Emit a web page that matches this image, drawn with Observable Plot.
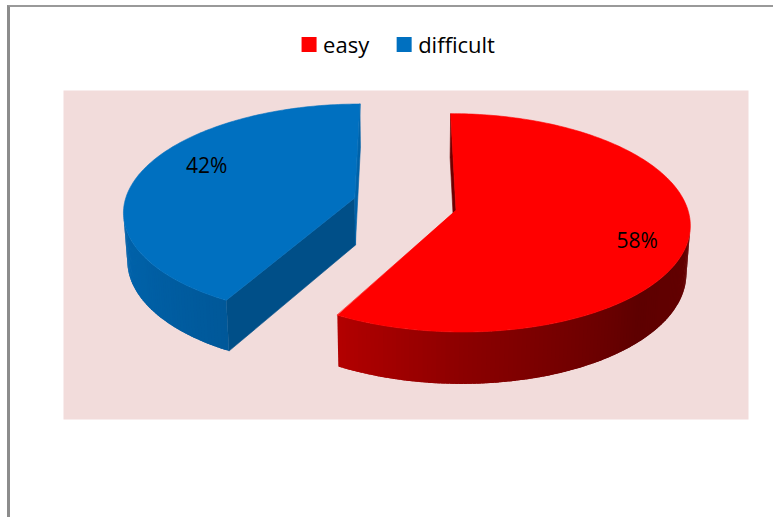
<!DOCTYPE html>
<html><head><meta charset="utf-8">
<script src="https://cdn.jsdelivr.net/npm/d3@7"></script>
<script src="https://cdn.jsdelivr.net/npm/@observablehq/plot@0.6"></script>
<style>
html,body{margin:0;padding:0;background:#fff;}
#wrap{position:relative;width:773px;height:517px;overflow:hidden;}
#chart{position:absolute;left:0;top:0;}
#frame{position:absolute;left:7px;top:5px;right:-10px;bottom:-10px;border-left:3px solid #8c8c8c;border-top:2px solid #999;pointer-events:none;}
</style></head><body>
<div id="wrap"><div id="chart"></div><div id="frame"></div></div>
<script>
// ---- data ----
const categories = ["easy", "difficult"];
const values = [58, 42];
const labels = ["58%", "42%"];

// ---- styles ----
const baseColors = {easy: "#ff0000", difficult: "#0070c0"};
const sideRamp = {
  easy: {domain: [90, 135, 180, 209], range: ["#660000", "#5e0000", "#8c0000", "#b30000"]},
  difficult: {domain: [209, 240, 280, 360], range: ["#005899", "#0060a6", "#0066b0", "#0066b0"]}
};
const cutColors = {easy: ["#6e0000", "#800000"], difficult: ["#004f88", "#0062a8"]};
const labelPlace = {easy: {r: 0.80, shift: 6.3}, difficult: {r: 0.745, shift: 10.2}};
const FONT = "'Open Sans', sans-serif";
const W = 773, H = 517;

// ---- 3D perspective pie geometry ----
const cam = {cx: 404.5, cy: 203.5, fx: 1765, fy: 1793, d: 7.66, phi: 27 * Math.PI / 180, depth: 0.23, explode: 0.227};
function project(X, Y, Z) {
  const c = Math.cos(cam.phi), s = Math.sin(cam.phi);
  const yc = Y * c + Z * s, zc = -Y * s + Z * c;
  const k = 1 / (cam.d + zc);
  return [cam.cx + X * cam.fx * k, cam.cy - yc * cam.fy * k];
}
function area(pts) {
  let a = 0;
  for (let i = 0; i < pts.length; i++) {
    const p = pts[i], q = pts[(i + 1) % pts.length];
    a += p[0] * q[1] - q[0] * p[1];
  }
  return a / 2;
}
const total = d3.sum(values);
const verts = [];
const labelRows = [];
let faceId = 0;
function addFace(pts, fill, edge) {
  const id = faceId++;
  for (const p of pts) verts.push({id, x: p[0], y: p[1], fill, edge});
}
let start = 0;
const slices = categories.map((name, i) => {
  const a0 = start, a1 = start + values[i] / total * 2 * Math.PI;
  start = a1;
  const mid = (a0 + a1) / 2;
  return {name, i, a0, a1, mid, ox: cam.explode * Math.sin(mid), oz: cam.explode * Math.cos(mid)};
});
// painter order: back slice first
const order = slices.slice().sort((a, b) => b.oz - a.oz);
for (const s of order) {
  const h = -cam.depth;
  const pt = (t, Y) => project(s.ox + Math.sin(t), Y, s.oz + Math.cos(t));
  const apex = Y => project(s.ox, Y, s.oz);
  const ramp = d3.scaleLinear().domain(sideRamp[s.name].domain).range(sideRamp[s.name].range).clamp(true);
  const startFace = [apex(0), pt(s.a0, 0), pt(s.a0, h), apex(h)];
  if (area(startFace) < 0) addFace(startFace, cutColors[s.name][0], cutColors[s.name][0]);
  const endFace = [pt(s.a1, 0), apex(0), apex(h), pt(s.a1, h)];
  if (area(endFace) < 0) addFace(endFace, cutColors[s.name][1], cutColors[s.name][1]);
  const n = Math.ceil((s.a1 - s.a0) / (Math.PI / 180));
  const step = (s.a1 - s.a0) / n;
  for (let j = 0; j < n; j++) {
    const ta = s.a0 + step * j, tb = s.a0 + step * (j + 1);
    const quad = [pt(ta, 0), pt(tb, 0), pt(tb, h), pt(ta, h)];
    if (area(quad) < 0) {
      const tbx = Math.min(s.a1, tb + step * 0.8);
      const taX = Math.max(s.a0, ta - step * 0.1);
      addFace([pt(taX, 0), pt(tbx, 0), pt(tbx, h), pt(taX, h)], ramp(((ta + tb) / 2) * 180 / Math.PI), "none");
    }
  }
  const top = [apex(0)];
  for (let j = 0; j <= n; j++) top.push(pt(s.a0 + step * j, 0));
  addFace(top, baseColors[s.name], baseColors[s.name]);
  const lpC = labelPlace[s.name];
  const t = s.mid + lpC.shift * Math.PI / 180;
  const lp = project(s.ox + lpC.r * Math.sin(t), 0, s.oz + lpC.r * Math.cos(t));
  labelRows.push({x: lp[0], y: lp[1], text: labels[s.i]});
}

// ---- legend layout ----
const ctx = document.createElement("canvas").getContext("2d");
ctx.font = "22px 'Open Sans'";
const sq = 15, gapST = 6, gapItem = 28, legendCenter = 398, legendBase = 52.5;
const widths = categories.map(c => ctx.measureText(c).width);
const totalW = d3.sum(widths) + categories.length * (sq + gapST) + gapItem * (categories.length - 1);
let lx = legendCenter - totalW / 2;
const legendRows = categories.map((c, i) => {
  const row = {name: c, color: baseColors[c], x1: lx, x2: lx + sq, y1: legendBase - 15.5, y2: legendBase - 0.5, tx: lx + sq + gapST, ty: legendBase};
  lx += sq + gapST + widths[i] + gapItem;
  return row;
});

const chart = Plot.plot({
  width: W, height: H,
  marginTop: 90, marginLeft: 63, marginRight: 25, marginBottom: 98,
  x: {domain: [0, W], range: [0, W], axis: null},
  y: {domain: [0, H], range: [0, H], axis: null},
  color: {type: "identity"},
  style: {background: "transparent", fontFamily: FONT},
  marks: [
    Plot.frame({fill: "#f2dcdb", stroke: null}),
    Plot.line(verts, {x: "x", y: "y", z: "id", fill: "fill", stroke: "edge", strokeWidth: 0.6, strokeLinejoin: "round", curve: "linear-closed"}),
    Plot.rect(legendRows, {x1: "x1", x2: "x2", y1: "y1", y2: "y2", fill: "color"}),
    Plot.text(legendRows, {x: "tx", y: "ty", text: "name", textAnchor: "start", lineAnchor: "bottom", fontSize: 22, fill: "#000", fontFamily: FONT}),
    Plot.text(labelRows, {x: "x", y: "y", text: "text", textAnchor: "middle", lineAnchor: "middle", fontSize: 21, fill: "#000", fontFamily: FONT})
  ]
});
document.getElementById("chart").appendChild(chart);
</script>
</body></html>
